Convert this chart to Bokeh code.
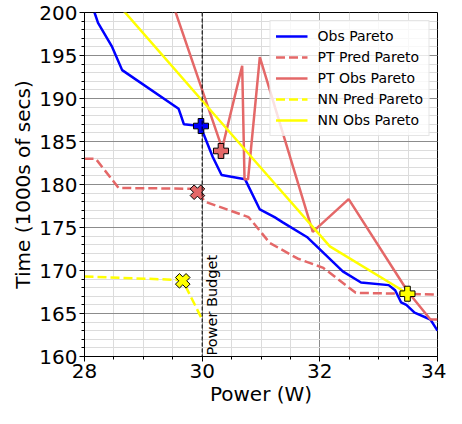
import numpy as np
from bokeh.plotting import figure
from bokeh.models import FixedTicker, Legend, LegendItem, Span
from bokeh.core.properties import value
from bokeh.embed import file_html
from bokeh.resources import INLINE

# ---- data ----
obs_x = [28.17, 28.23, 28.47, 28.64, 29.60, 29.64, 29.69, 29.97, 30.18, 30.33, 30.73,
         30.98, 31.23, 31.37, 31.78, 32.39, 32.70, 33.17, 33.28, 33.38, 33.47, 33.61, 33.88, 34.0]
obs_y = [200.0, 198.8, 196.0, 193.3, 188.8, 188.0, 187.0, 186.8, 183.2, 181.1, 180.6,
         177.1, 176.2, 175.6, 173.9, 169.9, 168.6, 168.3, 167.7, 166.3, 166.0, 165.1, 164.3, 163.0]

pt_pred_x = [28.0, 28.19, 28.58, 29.88, 30.05, 30.79, 31.15, 31.62, 32.06, 32.61, 33.44, 34.0]
pt_pred_y = [183.0, 183.0, 179.6, 179.5, 178.0, 176.2, 173.2, 171.4, 170.3, 167.4, 167.3, 167.2]

pt_obs_x = [29.40, 30.34, 30.68, 30.72, 30.78, 30.98, 31.88, 32.49, 33.50, 33.88, 34.0]
pt_obs_y = [203.0, 184.2, 193.8, 180.6, 180.6, 194.8, 174.5, 178.3, 167.5, 164.3, 164.3]

nn_pred_x = [28.0, 29.63, 29.68, 30.0]
nn_pred_y = [169.3, 168.9, 168.7, 164.3]

nn_obs_x = [28.55, 30.9, 32.17, 33.33, 33.49]
nn_obs_y = [201.1, 182.7, 172.8, 168.0, 167.3]

# chosen points
obs_pick = (29.98, 186.8)
pt_pred_pick = (29.92, 179.1)
pt_obs_pick = (30.32, 183.9)
nn_pred_pick = (29.67, 168.8)
nn_obs_pick = (33.49, 167.3)

power_budget = 30

x_ticks = [28, 30, 32, 34]
y_ticks = [160, 165, 170, 175, 180, 185, 190, 195, 200]

RED = "#e46868"
BLUE = "#0000ff"
YEL = "#ffff00"
FONT = "DejaVu Sans"

p = figure(width=446, height=408, output_backend="svg", toolbar_location=None,
           x_range=(28, 34), y_range=(160, 200),
           min_border_left=84, min_border_right=9, min_border_top=12, min_border_bottom=44)

p.outline_line_color = "black"
p.outline_line_width = 1
p.background_fill_color = "white"

p.xaxis.ticker = FixedTicker(ticks=x_ticks, minor_ticks=list(np.arange(28, 34.01, 0.5)))
p.yaxis.ticker = FixedTicker(ticks=y_ticks, minor_ticks=list(range(160, 201)))

for ax in (p.xaxis[0], p.yaxis[0]):
    ax.major_label_text_font = FONT
    ax.major_label_text_font_size = "20px"
    ax.major_label_text_color = "black"
    ax.axis_label_text_font = FONT
    ax.axis_label_text_font_size = "20px"
    ax.axis_label_text_font_style = "normal"
    ax.axis_label_text_color = "black"
    ax.axis_line_color = "black"
    ax.major_tick_line_color = "black"
    ax.minor_tick_line_color = "black"
    ax.major_tick_out = 5
    ax.major_tick_in = 0
    ax.minor_tick_out = 3
    ax.minor_tick_in = 0
    ax.major_label_standoff = 2
    ax.axis_label_standoff = 1

p.xaxis.axis_label = "Power (W)"
p.yaxis.axis_label = "Time (1000s of secs)"

for g in (p.xgrid[0], p.ygrid[0]):
    g.grid_line_color = "#8c8c8c"
    g.grid_line_width = 1
    g.minor_grid_line_color = "#dcdcdc"
    g.minor_grid_line_width = 1
p.xgrid.ticker = p.xaxis.ticker
p.ygrid.ticker = p.yaxis.ticker

LW = 2.5
r_obs = p.line(obs_x, obs_y, line_color=BLUE, line_width=LW)
r_ptp = p.line(pt_pred_x, pt_pred_y, line_color=RED, line_width=LW, line_dash="9 4")
r_pto = p.line(pt_obs_x, pt_obs_y, line_color=RED, line_width=LW)
r_nnp = p.line(nn_pred_x, nn_pred_y, line_color=YEL, line_width=LW, line_dash="9 4")
r_nno = p.line(nn_obs_x, nn_obs_y, line_color=YEL, line_width=LW)

# power budget line
p.add_layout(Span(location=power_budget, dimension="height", line_color="black",
                  line_width=1, line_dash="4 2"))
p.text(x=[power_budget], y=[160], text=["Power Budget"], angle=np.pi / 2,
       text_align="left", text_baseline="top", x_offset=2, y_offset=-1,
       text_font=value(FONT), text_font_size="14.5px", text_color="black")

# markers
p.scatter([obs_pick[0]], [obs_pick[1]], marker="plus", size=15, fill_color=BLUE,
          line_color="black", line_width=1)
p.scatter([pt_pred_pick[0]], [pt_pred_pick[1]], marker="plus", size=15, angle=np.pi / 4,
          fill_color=RED, line_color="black", line_width=1)
p.scatter([pt_obs_pick[0]], [pt_obs_pick[1]], marker="plus", size=15, fill_color=RED,
          line_color="black", line_width=1)
p.scatter([nn_pred_pick[0]], [nn_pred_pick[1]], marker="plus", size=15, angle=np.pi / 4,
          fill_color=YEL, line_color="black", line_width=1)
p.scatter([nn_obs_pick[0]], [nn_obs_pick[1]], marker="plus", size=15, fill_color=YEL,
          line_color="black", line_width=1)

legend = Legend(items=[
    LegendItem(label="Obs Pareto", renderers=[r_obs]),
    LegendItem(label="PT Pred Pareto", renderers=[r_ptp]),
    LegendItem(label="PT Obs Pareto", renderers=[r_pto]),
    LegendItem(label="NN Pred Pareto", renderers=[r_nnp]),
    LegendItem(label="NN Obs Pareto", renderers=[r_nno]),
], location="top_right")
legend.margin = 8
legend.padding = 5
legend.spacing = 1
legend.glyph_width = 32
legend.glyph_height = 20
legend.label_height = 20
legend.label_standoff = 10
legend.label_text_font = FONT
legend.label_text_font_size = "14px"
legend.label_text_color = "black"
legend.border_line_color = "#cccccc"
legend.border_line_width = 1
legend.background_fill_color = "white"
legend.background_fill_alpha = 0.8
p.add_layout(legend)

open("out.html", "w").write(file_html(p, INLINE))
